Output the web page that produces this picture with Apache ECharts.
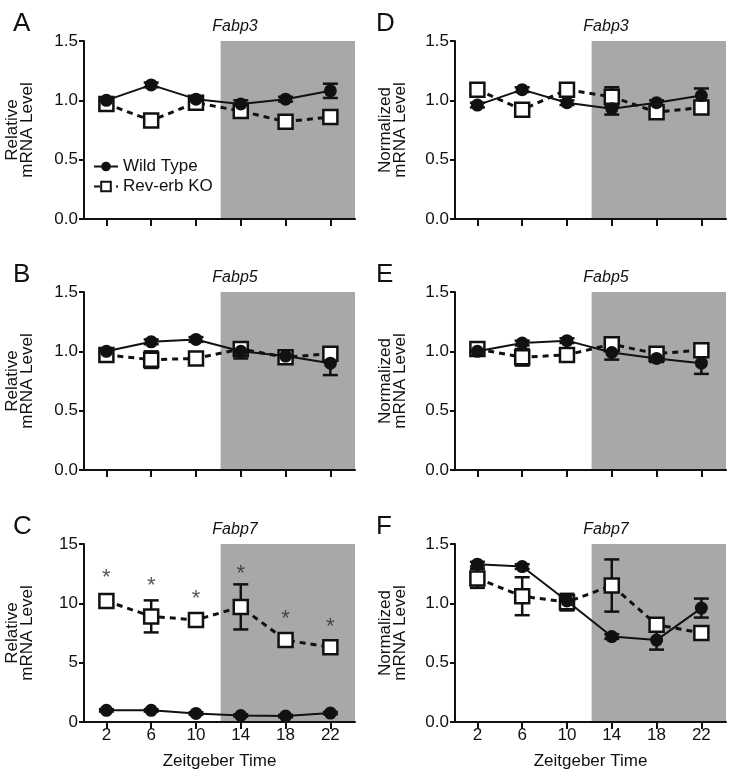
<!DOCTYPE html>
<html>
<head>
<meta charset="utf-8">
<script src="https://cdn.jsdelivr.net/npm/echarts@6/dist/echarts.min.js"></script>
<style>
  html, body { margin: 0; background: #fff; }
  #chart { width: 735px; height: 784px; }
</style>
</head>
<body>
<div id="chart"></div>
<script>
// Zeitgeber time points
var zt = [2, 6, 10, 14, 18, 22];
// dark phase shading
var darkStart = 12.2;
var darkEnd = 24.2;

// A - Fabp3, relative
var wtA = [1.00, 1.13, 1.01, 0.97, 1.01, 1.08];
var wtAErr = [0.02, 0.02, 0.02, 0.03, 0.02, 0.06];
var koA = [0.97, 0.83, 0.98, 0.91, 0.82, 0.86];
var koAErr = [0.03, 0.02, 0.03, 0.05, 0.02, 0.02];

// B - Fabp5, relative
var wtB = [1.00, 1.08, 1.10, 1.00, 0.96, 0.90];
var wtBErr = [0.02, 0.02, 0.02, 0.06, 0.03, 0.10];
var koB = [0.97, 0.93, 0.94, 1.02, 0.95, 0.98];
var koBErr = [0.03, 0.07, 0.02, 0.05, 0.04, 0.05];

// C - Fabp7, relative
var wtC = [0.98, 0.98, 0.72, 0.55, 0.50, 0.75];
var wtCErr = [0.1, 0.1, 0.1, 0.1, 0.1, 0.1];
var koC = [10.2, 8.9, 8.6, 9.7, 6.9, 6.3];
var koCErr = [0.4, 1.35, 0.3, 1.9, 0.4, 0.3];
var starC = [12.6, 11.9, 10.8, 12.9, 9.1, 8.4];

// D - Fabp3, normalized
var wtD = [0.96, 1.09, 0.98, 0.93, 0.98, 1.04];
var wtDErr = [0.02, 0.02, 0.02, 0.05, 0.02, 0.06];
var koD = [1.09, 0.92, 1.09, 1.03, 0.90, 0.94];
var koDErr = [0.04, 0.02, 0.04, 0.08, 0.03, 0.03];

// E - Fabp5, normalized
var wtE = [1.00, 1.07, 1.09, 0.99, 0.94, 0.90];
var wtEErr = [0.02, 0.02, 0.02, 0.06, 0.03, 0.09];
var koE = [1.02, 0.95, 0.97, 1.06, 0.98, 1.01];
var koEErr = [0.03, 0.07, 0.02, 0.04, 0.04, 0.04];

// F - Fabp7, normalized
var wtF = [1.33, 1.31, 1.02, 0.72, 0.69, 0.96];
var wtFErr = [0.02, 0.02, 0.03, 0.02, 0.08, 0.08];
var koF = [1.21, 1.06, 1.01, 1.15, 0.82, 0.75];
var koFErr = [0.08, 0.16, 0.07, 0.22, 0.04, 0.04];

var FONT = '"Liberation Sans", Arial, Helvetica, sans-serif';
var INK = '#111';

var panels = [
  { letter: 'A', gene: 'Fabp3', yName: 'Relative\nmRNA Level', wt: wtA, wtErr: wtAErr, ko: koA, koErr: koAErr, max: 1.5, step: 0.5, col: 0, row: 0 },
  { letter: 'B', gene: 'Fabp5', yName: 'Relative\nmRNA Level', wt: wtB, wtErr: wtBErr, ko: koB, koErr: koBErr, max: 1.5, step: 0.5, col: 0, row: 1 },
  { letter: 'C', gene: 'Fabp7', yName: 'Relative\nmRNA Level', wt: wtC, wtErr: wtCErr, ko: koC, koErr: koCErr, max: 15, step: 5, col: 0, row: 2 },
  { letter: 'D', gene: 'Fabp3', yName: 'Normalized\nmRNA Level', wt: wtD, wtErr: wtDErr, ko: koD, koErr: koDErr, max: 1.5, step: 0.5, col: 1, row: 0 },
  { letter: 'E', gene: 'Fabp5', yName: 'Normalized\nmRNA Level', wt: wtE, wtErr: wtEErr, ko: koE, koErr: koEErr, max: 1.5, step: 0.5, col: 1, row: 1 },
  { letter: 'F', gene: 'Fabp7', yName: 'Normalized\nmRNA Level', wt: wtF, wtErr: wtFErr, ko: koF, koErr: koFErr, max: 1.5, step: 0.5, col: 1, row: 2 }
];

var colLeft = [84, 455];
var rowTop = [41, 292, 544];
var gridW = 271;
var gridH = 178;

var chart = echarts.init(document.getElementById('chart'));

function errorBars(i, mean, err) {
  return {
    type: 'custom',
    xAxisIndex: i,
    yAxisIndex: i,
    silent: true,
    z: 3,
    data: zt.map(function (x, k) { return [x, mean[k] - err[k], mean[k] + err[k]]; }),
    renderItem: function (params, api) {
      var lo = api.coord([api.value(0), api.value(1)]);
      var hi = api.coord([api.value(0), api.value(2)]);
      var w = 7.5;
      var st = { stroke: INK, lineWidth: 2.5 };
      return {
        type: 'group',
        children: [
          { type: 'line', shape: { x1: lo[0], y1: lo[1], x2: hi[0], y2: hi[1] }, style: st },
          { type: 'line', shape: { x1: lo[0] - w, y1: lo[1], x2: lo[0] + w, y2: lo[1] }, style: st },
          { type: 'line', shape: { x1: hi[0] - w, y1: hi[1], x2: hi[0] + w, y2: hi[1] }, style: st }
        ]
      };
    }
  };
}

var grids = [], xAxes = [], yAxes = [], series = [], titles = [];

panels.forEach(function (p, i) {
  var left = colLeft[p.col];
  var top = rowTop[p.row];
  var bottomRow = p.row === 2;

  grids.push({ left: left, top: top, width: gridW, height: gridH });

  xAxes.push({
    type: 'value',
    gridIndex: i,
    min: 0,
    max: darkEnd,
    z: 5,
    splitLine: { show: false },
    axisLine: { lineStyle: { color: INK, width: 2 } },
    axisTick: { customValues: zt, length: 7, lineStyle: { color: INK, width: 2 } },
    axisLabel: {
      show: bottomRow,
      customValues: zt,
      fontSize: 17,
      color: INK,
      fontFamily: FONT,
      margin: 5
    },
    name: bottomRow ? 'Zeitgeber Time' : '',
    nameLocation: 'middle',
    nameGap: 31,
    nameTextStyle: { fontSize: 17, color: INK, fontFamily: FONT }
  });

  yAxes.push({
    type: 'value',
    gridIndex: i,
    min: 0,
    max: p.max,
    interval: p.step,
    z: 5,
    splitLine: { show: false },
    axisLine: { show: true, lineStyle: { color: INK, width: 2 } },
    axisTick: { show: true, length: 5, lineStyle: { color: INK, width: 2 } },
    axisLabel: {
      fontSize: 17,
      color: INK,
      fontFamily: FONT,
      margin: 6,
      formatter: function (v) { return p.step < 1 ? v.toFixed(1) : String(v); }
    },
    name: p.yName,
    nameLocation: 'middle',
    nameGap: p.col === 0 ? 49 : 47,
    nameTextStyle: { fontSize: 17, lineHeight: 15, color: INK, fontFamily: FONT }
  });

  // dark phase shading
  series.push({
    type: 'custom',
    xAxisIndex: i,
    yAxisIndex: i,
    silent: true,
    z: 0,
    data: [[darkStart, darkEnd]],
    renderItem: function (params, api) {
      var cs = params.coordSys;
      var x0 = api.coord([api.value(0), 0])[0];
      var x1 = api.coord([api.value(1), 0])[0];
      return {
        type: 'rect',
        shape: { x: x0, y: cs.y, width: x1 - x0, height: cs.height },
        style: { fill: '#a8a8a8' }
      };
    }
  });

  series.push(errorBars(i, p.ko, p.koErr));
  series.push({
    name: 'Rev-erb KO',
    type: 'line',
    xAxisIndex: i,
    yAxisIndex: i,
    z: 4,
    data: zt.map(function (x, k) { return [x, p.ko[k]]; }),
    symbol: 'rect',
    symbolSize: 14,
    lineStyle: { color: INK, width: 3, type: [6, 5] },
    itemStyle: { color: '#fff', borderColor: INK, borderWidth: 2.5 },
    emphasis: { disabled: true }
  });
  series.push(errorBars(i, p.wt, p.wtErr));
  series.push({
    name: 'Wild Type',
    type: 'line',
    xAxisIndex: i,
    yAxisIndex: i,
    z: 6,
    data: zt.map(function (x, k) { return [x, p.wt[k]]; }),
    symbol: 'circle',
    symbolSize: 13,
    lineStyle: { color: INK, width: 2 },
    itemStyle: { color: INK, borderColor: INK, borderWidth: 0 },
    emphasis: { disabled: true }
  });

  titles.push({
    text: p.letter,
    left: p.col === 0 ? 8 : 371,
    top: top - 35,
    textStyle: { fontSize: 26, fontWeight: 'normal', color: INK, fontFamily: FONT }
  });
  titles.push({
    text: p.gene,
    left: left + 146,
    textAlign: 'center',
    top: top - 27,
    textStyle: { fontSize: 16, fontStyle: 'italic', fontWeight: 'normal', color: INK, fontFamily: FONT }
  });
});

// significance asterisks on panel C
series.push({
  type: 'scatter',
  xAxisIndex: 2,
  yAxisIndex: 2,
  silent: true,
  z: 7,
  symbolSize: 1,
  itemStyle: { color: 'rgba(0,0,0,0)' },
  data: zt.map(function (x, k) { return [x, starC[k]]; }),
  label: {
    show: true,
    position: 'inside',
    formatter: '*',
    fontSize: 22,
    color: '#2a2a2a',
    fontFamily: FONT,
    offset: [0, 5]
  }
});

chart.setOption({
  animation: false,
  backgroundColor: '#fff',
  title: titles,
  legend: {
    data: ['Wild Type', 'Rev-erb KO'],
    orient: 'vertical',
    left: 88,
    top: 153,
    itemWidth: 24,
    itemHeight: 12,
    itemGap: 3,
    selectedMode: false,
    textStyle: { fontSize: 17, color: INK, fontFamily: FONT }
  },
  grid: grids,
  xAxis: xAxes,
  yAxis: yAxes,
  series: series
});
</script>
</body>
</html>
